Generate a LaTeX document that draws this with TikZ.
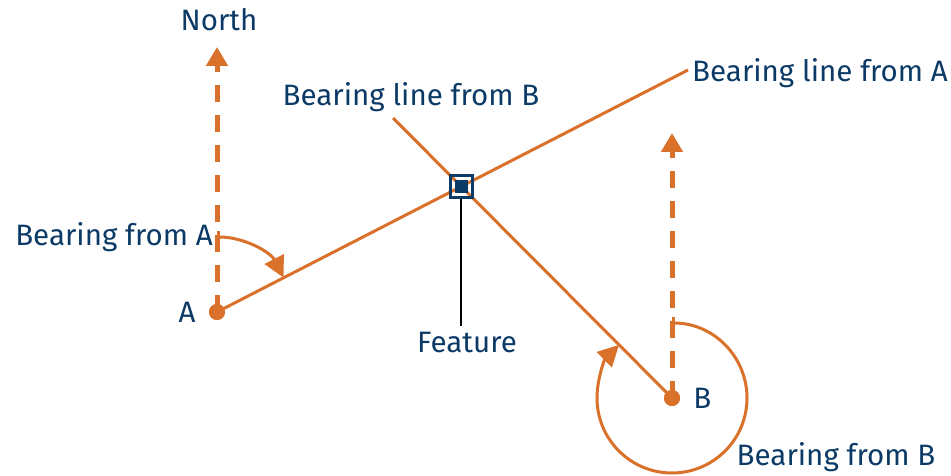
\documentclass[tikz,border=0pt]{standalone}
\usepackage{fontspec}
\setmainfont{Fira Sans}
\usetikzlibrary{arrows.meta,positioning}
\definecolor{cBear}{HTML}{D9712B}
\definecolor{cInk}{HTML}{0B3A66}
\tikzset{
  font=\fontsize{29.5}{33}\selectfont,
  lbl/.style={text=cInk, inner sep=0pt},
  northln/.style={draw=cBear, line width=5pt, dash pattern=on 17pt off 13pt, -{Triangle[length=19pt,width=21pt]}},
  bline/.style={draw=cBear, line width=3pt},
  barc/.style={draw=cBear, line width=3pt, {Bar[width=12pt]}-{Triangle[length=21pt,width=21pt]}},
  spot/.style={circle, fill=cBear, minimum size=16pt, inner sep=0pt},
}

\begin{document}
\begin{tikzpicture}[x=1pt, y=1pt]
\useasboundingbox (0,0) rectangle (951,475);
\node[spot] (A) at (217,163) {};
\node[spot] (B) at (672,77) {};
\coordinate (nA) at (217,428);
\coordinate (nB) at (672,342);
\coordinate (endA) at (688,405);
\coordinate (startB) at (393,357);
\coordinate (F) at (intersection of A--endA and startB--B);
% north directions
\draw[northln] (A.center) -- (nA);
\draw[northln] (B.center) -- (nB);
% bearing lines
\draw[bline] (A.center) -- (endA);
\draw[bline] (startB) -- (B.center);
\node[spot] at (A) {};
\node[spot] at (B) {};
% bearing angles
\draw[barc] ([yshift=75pt]A.center) arc[start angle=90, end angle=27.2, radius=75pt];
\draw[barc] ([yshift=75pt]B.center) arc[start angle=90, end angle=-225.1, radius=75pt];
% feature
\node[draw=cInk, line width=3pt, minimum size=22pt, inner sep=0pt] (feat) at (F) {};
\node[fill=cInk, minimum size=13pt, inner sep=0pt] (featc) at (F) {};
\node[lbl] (featl) at (467,132) {Feature};
\draw[line width=2pt] (feat.south) -- ([yshift=6pt]feat.south |- featl.north);
% labels
\node[lbl] (north) at (219,455) {North};
\node[lbl] (lblB) at (411,378) {Bearing line from B};
\node[lbl, anchor=west] (lblA) at (692,402) {Bearing line from A};
\node[lbl, anchor=east] (brA) at (213,238) {Bearing from A};
\node[lbl, left=13pt of A] (nmA) {A};
\node[lbl, right=13pt of B] (nmB) {B};
\node[lbl] (brB) at (836,18) {Bearing from B};
\end{tikzpicture}
\end{document}
